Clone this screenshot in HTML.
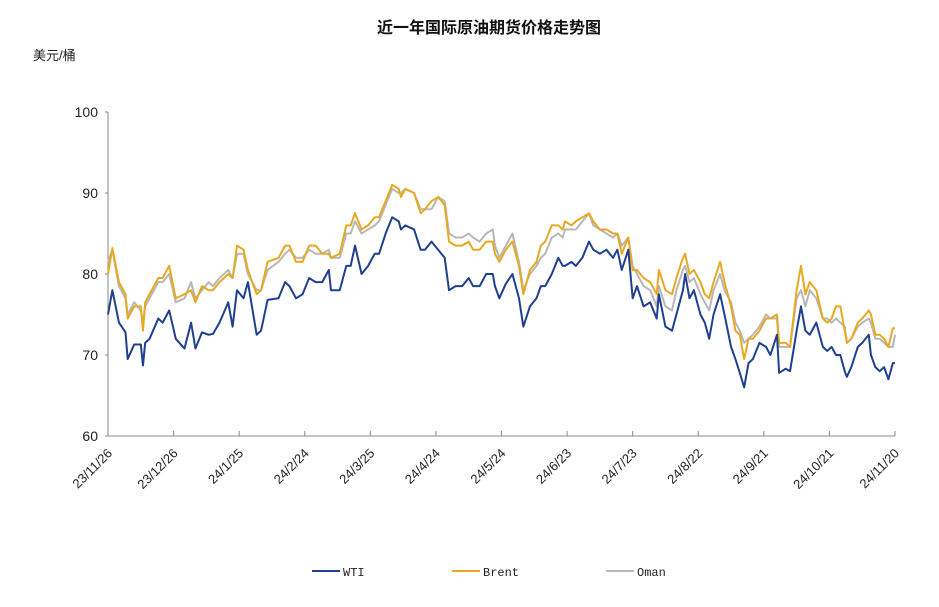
<!DOCTYPE html>
<html><head><meta charset="utf-8"><style>
body{margin:0;background:#fff;font-family:"Liberation Sans","Noto Sans CJK SC",sans-serif}
</style></head><body>
<svg id="chart" width="939" height="602" xmlns="http://www.w3.org/2000/svg" font-family="Liberation Sans, Noto Sans CJK SC, sans-serif">
<text x="489" y="33" text-anchor="middle" font-size="16" font-weight="bold" fill="#111">近一年国际原油期货价格走势图</text>
<text x="33" y="60" font-size="13" fill="#222">美元/桶</text>
<g id="axes"></g><g id="series"></g><g id="legend"></g>
</svg>
<script>
const tickLabels=["23/11/26","23/12/26","24/1/25","24/2/24","24/3/25","24/4/24","24/5/24","24/6/23","24/7/23","24/8/22","24/9/21","24/10/21","24/11/20"];
const yTicks=[60,70,80,90,100];
const days=[0,2,5,8,9,12,15,16,17,19,23,25,28,31,35,38,40,43,46,48,51,55,57,59,62,64,68,70,73,78,81,83,86,89,92,95,98,101,102,106,109,111,113,116,119,122,124,127,130,133,134,136,140,143,145,148,151,154,156,159,162,165,167,170,173,176,177,179,182,185,188,190,193,196,198,200,203,206,208,209,212,214,217,220,222,225,228,231,233,235,238,240,242,245,248,251,252,255,258,260,263,264,266,268,271,273,275,277,280,282,285,287,289,291,293,295,298,301,303,306,307,310,312,315,317,319,321,324,327,329,331,333,335,337,338,340,343,345,348,349,351,353,355,357,359,360];
const wti=[75,78,74,72.8,69.5,71.3,71.3,68.7,71.5,72,74.5,74,75.5,72,70.8,74,70.8,72.8,72.5,72.6,74,76.5,73.5,78,77,79,72.5,73,76.8,77,79,78.5,77,77.5,79.5,79,79,80.5,78,78,81,81,83.5,80,81,82.5,82.5,85,87,86.5,85.5,86,85.5,83,83,84,83,82,78,78.5,78.5,79.5,78.5,78.5,80,80,78.5,77,78.8,80,77,73.5,76,77,78.5,78.5,80,82,81,81,81.5,81,82,84,83,82.5,83,82,83,80.5,83,77,78.5,76,76.5,74.5,77.5,73.5,73,75,78,80,77,78,75,74,72,75,77.5,75,71,69.5,67.8,66,69,69.5,71.5,71,70,72.5,67.8,68.3,68,73,76,73,72.5,74,71,70.5,71,70,70,68,67.3,68.5,71,71.5,72.5,70,68.5,68,68.5,67,69,69];
const brent=[80,83.2,79,77.5,74.5,76,76,73,76.5,77.5,79.5,79.5,81,77,77.5,78,76.5,78.5,78,78,79,80,79.5,83.5,83,80.5,77.5,78,81.5,82,83.5,83.5,81.5,81.5,83.5,83.5,82.5,82.5,82,82.5,86,86,87.5,85.5,86,87,87,89,91,90.5,89.5,90.5,90,87.5,88,89,89.5,88.5,84,83.5,83.5,84,83,83,84,84,82.5,81.5,83,84,81,77.5,80.5,81.5,83.5,84,86,86,85.5,86.5,86,86.5,87,87.5,86.5,85.5,85.5,85,85,82.5,84.5,80.5,80.5,79.5,79,77.5,80.5,78,77.5,79.5,82,82.5,80,80.5,79,77.5,77,79,81.5,79,76,73,72.5,69.5,72,72,73,74.5,74.5,75,71.5,71.5,71,78,81,77.5,79,78,74.5,74,74.5,76,76,73,71.5,72,74,74.5,75.5,75,72.5,72.5,72,71,73.3,73.3];
const oman=[81.5,83,78.5,77,75,76.5,75.5,74,76,77,79,79,80,76.5,77,79,77,78,79,78.5,79.5,80.5,79.5,82.5,82.5,80,78,78,80.5,81.5,82.5,83,82,82,83,82.5,82.5,83,82,82,85,85,86.5,85,85.5,86,86.5,88.5,90.5,90,90,90.5,90,88,88,88,89.5,89,85,84.5,84.5,85,84.5,84,85,85.5,83.5,82,83.5,85,81.5,78,80,81,82,82.5,84.5,85,84.5,85.5,85.5,85.5,86.5,87.5,86,85.5,85,84.5,85,83.5,84.5,81,80,78.5,78,76,78.5,76,75.5,78,80.5,81,79,79.5,77.5,76.5,75.5,78,80,78,76.5,74,73,71.5,72,72.5,73.5,75,74.5,74.5,71,71,71,77,78,76,78,77,74.5,74.5,74,74.5,74,73.5,71.5,72,73.5,74,74.5,74,72,72,71.5,71,71,72.5];
const NS="http://www.w3.org/2000/svg";
const X0=108,X1=895,Y0=436,Y1=112;
function xS(d){return X0+(d/360)*(X1-X0);}
function yS(v){return Y0-(v-60)/40*(Y0-Y1);}
function mk(t,a,p){const e=document.createElementNS(NS,t);for(const k in a)e.setAttribute(k,a[k]);p.appendChild(e);return e;}
const ax=document.getElementById('axes');
let l=mk('line',{x1:X0,y1:Y1,x2:X0,y2:Y0,stroke:'#888'},ax);


l=mk('line',{x1:X0,y1:Y0,x2:X1,y2:Y0,stroke:'#888'},ax);


yTicks.forEach(v=>{
 const tk=mk('line',{x1:X0-3,y1:yS(v),x2:X0,y2:yS(v),stroke:'#888'},ax);
 
 
 const t=mk('text',{x:X0-10,y:yS(v)+5,'text-anchor':'end','font-size':14,fill:'#222'},ax);
 t.textContent=v;
 
 
});
tickLabels.forEach((s,i)=>{
 const x=X0+i*(X1-X0)/(tickLabels.length-1);
 const tk=mk('line',{x1:x,y1:Y0-5,x2:x,y2:Y0,stroke:'#888'},ax);
 
 
 const t=mk('text',{x:x+5,y:Y0+18,'text-anchor':'end','font-size':13,fill:'#222',transform:`rotate(-45 ${x+5} ${Y0+18})`},ax);
 t.textContent=s;
 
 
});
const sg=document.getElementById('series');
function line(arr,c,n){
 const p=mk('polyline',{points:arr.map((v,i)=>xS(days[i])+','+yS(v)).join(' '),fill:'none',stroke:c,'stroke-width':2,'stroke-linejoin':'round'},sg);
 
 
}
line(oman,'#b7b7b7','oman-line');
line(brent,'#e8a922','brent-line');
line(wti,'#1f3f8f','wti-line');
const lg=document.getElementById('legend');
[['WTI','#1f3f8f',312],['Brent','#e8a922',452],['Oman','#b7b7b7',606]].forEach(([n,c,x])=>{
 const g=mk('g',{},lg);
 
 
 mk('line',{x1:x,y1:571,x2:x+28,y2:571,stroke:c,'stroke-width':2},g);
 const t=mk('text',{x:x+31,y:576,'font-size':12,fill:'#222','font-family':'Liberation Mono, monospace'},g);
 t.textContent=n;
});
</script>
</body></html>
